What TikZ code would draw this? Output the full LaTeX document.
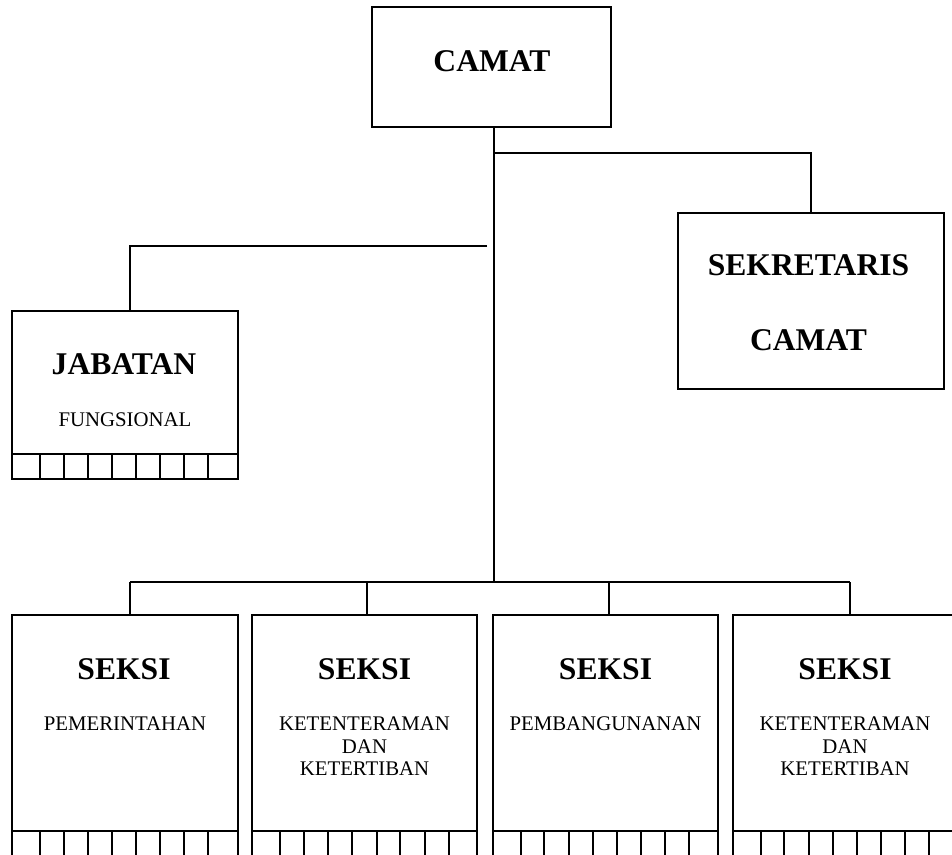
\documentclass[tikz,border=0pt]{standalone}
\usepackage{fontspec}
\setmainfont{Liberation Serif}
\begin{document}
\begin{tikzpicture}[x=1pt,y=-1pt,
  box/.style={draw, line width=1.6pt, rectangle, inner sep=0pt, outer sep=0pt, anchor=north west},
  conn/.style={line width=1.6pt},
  cellline/.style={line width=1.6pt},
  title/.style={font=\fontsize{31.6}{34}\selectfont\bfseries, anchor=base, inner sep=0pt},
  sub/.style={font=\fontsize{20.8}{22.5}\selectfont, anchor=north, inner sep=0pt, align=center}]
\useasboundingbox (0,0) rectangle (952,854);
\clip (0,0) rectangle (952,854);

% boxes
\node[box, minimum width=239pt, minimum height=120pt] (camat) at (372,7) {};
\node[box, minimum width=266pt, minimum height=176pt] (sek) at (678,213) {};
\node[box, minimum width=226pt, minimum height=168pt] (jab) at (12,311) {};
\node[box, minimum width=226pt, minimum height=260pt] (s1) at (12,615) {};
\node[box, minimum width=225pt, minimum height=260pt] (s2) at (252,615) {};
\node[box, minimum width=225pt, minimum height=260pt] (s3) at (493,615) {};
\node[box, minimum width=224pt, minimum height=260pt] (s4) at (733,615) {};

% texts
\node[title] (tcamat) at (492,71) {CAMAT};
\node[title] (tsek1) at (808.5,275) {SEKRETARIS};
\node[title] (tsek2) at (808.5,350) {CAMAT};
\node[title] (tjab) at (124,374) {JABATAN};
\node[sub, anchor=base] (tfung) at (125,426) {FUNGSIONAL};
\node[title] (ts1) at (124,679) {SEKSI};
\node[title] (ts2) at (364.5,679) {SEKSI};
\node[title] (ts3) at (605.5,679) {SEKSI};
\node[title] (ts4) at (845,679) {SEKSI};
\node[sub] (u1) at (125,717) {PEMERINTAHAN};
\node[sub] (u2) at (364.5,717) {KETENTERAMAN\\DAN\\KETERTIBAN};
\node[sub] (u3) at (605.5,717) {PEMBANGUNANAN};
\node[sub] (u4) at (845,717) {KETENTERAMAN\\DAN\\KETERTIBAN};

% connectors
\coordinate (tx) at (494,0);
\coordinate (t1) at (494,153);
\coordinate (t2) at (494,582);
\coordinate (l1) at (487,246);
\coordinate (jx) at (130,246);
\coordinate (b1) at (130,582);
\coordinate (b2) at (367,582);
\coordinate (b3) at (609,582);
\coordinate (b4) at (850,582);
\draw[conn] (camat.south -| tx) -- (t2);
\draw[conn] (t1) -| (sek.north);
\draw[conn] (l1) -- (jx) -- (jx |- jab.north);
\draw[conn] (b1) -- (b4);
\draw[conn] (b1) -- (b1 |- s1.north);
\draw[conn] (b2) -- (b2 |- s2.north);
\draw[conn] (b3) -- (b3 |- s3.north);
\draw[conn] (b4) -- (b4 |- s4.north);

% cell rows
\draw[cellline] (12,454) -- (238,454);
\foreach \x in {40,64,88,112,136,160,184,208} \draw[cellline] (\x,454) -- (\x,479);
\foreach \a/\b in {12/238,252/477,493/718,733/957} \draw[cellline] (\a,831) -- (\b,831);
\foreach \x in {40,64,88,112,136,160,184,208,
                280,304,328,352,377,400,425,449,
                521,544,569,593,617,641,665,689,
                761,784,809,833,857,881,905,929}
  \draw[cellline] (\x,831) -- (\x,860);
\end{tikzpicture}
\end{document}
